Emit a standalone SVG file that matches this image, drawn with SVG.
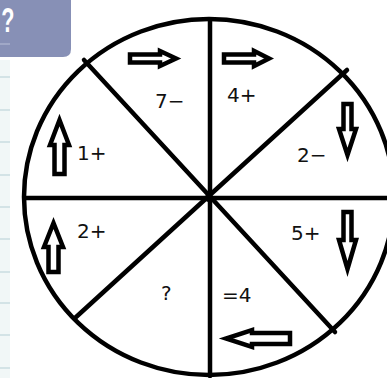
<svg xmlns="http://www.w3.org/2000/svg" width="387" height="378" viewBox="0 0 387 378">
<style>
.ln{stroke:#000;stroke-width:4.5;fill:none;stroke-linecap:round}
.ar{stroke:#000;stroke-width:4.5;fill:#fff;stroke-linejoin:miter}
.t{font-family:"DejaVu Sans",sans-serif;font-size:20px;fill:#111}
.rule{stroke:#c9dde0;stroke-width:1.5}
</style>
<rect x="0" y="0" width="387" height="378" fill="#fff"/>
<g id="sidebar">
<rect x="0" y="60" width="10" height="318" fill="#f1f7f7"/>
<g class="rule">
<line x1="0" y1="77" x2="10" y2="77"/><line x1="0" y1="110" x2="10" y2="110"/>
<line x1="0" y1="142" x2="10" y2="142"/><line x1="0" y1="175" x2="10" y2="175"/>
<line x1="0" y1="207" x2="10" y2="207"/><line x1="0" y1="239" x2="10" y2="239"/>
<line x1="0" y1="272" x2="10" y2="272"/><line x1="0" y1="303" x2="10" y2="303"/>
<line x1="0" y1="335" x2="10" y2="335"/><line x1="0" y1="368" x2="10" y2="368"/>
</g>
</g>
<g id="badge">
<path d="M0,0 H71 V49 Q71,57 63,57 H0 Z" fill="#8790b6"/>
<line x1="0" y1="44" x2="10" y2="44" stroke="#a9b0cc" stroke-width="1.5"/>
<text x="2" y="32" transform="scale(0.6,1)" font-family="'Liberation Sans',sans-serif" font-size="36" font-weight="bold" fill="#fff">?</text>
</g>
<g id="connectors">
<ellipse class="ln" cx="209" cy="197" rx="185" ry="178"/>
<line class="ln" x1="25" y1="198" x2="390" y2="198" stroke-width="5"/>
<line class="ln" x1="210" y1="20" x2="210" y2="376"/>
<line class="ln" x1="84" y1="60" x2="335" y2="332"/>
<line class="ln" x1="347" y1="70" x2="75" y2="318"/>
<circle cx="209" cy="198" r="4" fill="#000"/>
</g>
<g id="s1"><path class="ar" d="M130,54.5 H160 V51 L176,58.5 L160,66 V62.5 H130 Z"/><text class="t" x="155" y="108">7−</text></g>
<g id="s2"><path class="ar" d="M224,54.5 H254 V51 L269,58.5 L254,66 V62.5 H224 Z"/><text class="t" x="227" y="102">4+</text></g>
<g id="s3"><path class="ar" d="M343.5,104 V129 H339 L347.5,155 L356,129 H351.5 V104 Z"/><text class="t" x="297" y="162">2−</text></g>
<g id="s4"><path class="ar" d="M343.5,212 V240 H339 L347.5,269 L356,240 H351.5 V212 Z"/><text class="t" x="291" y="240">5+</text></g>
<g id="s5"><path class="ar" d="M290,333 V344 H252 V347 L226,338.5 L252,330 V333 Z"/><text class="t" x="222" y="302">=4</text></g>
<g id="s6"><text class="t" x="161" y="300">?</text></g>
<g id="s7"><path class="ar" d="M48.5,272 V247 H44 L53.5,223 L63,247 H58.5 V272 Z"/><text class="t" x="77" y="238">2+</text></g>
<g id="s8"><path class="ar" d="M54.5,174 V145 H50 L59.5,120 L69,145 H64.5 V174 Z"/><text class="t" x="77" y="160">1+</text></g>
</svg>
